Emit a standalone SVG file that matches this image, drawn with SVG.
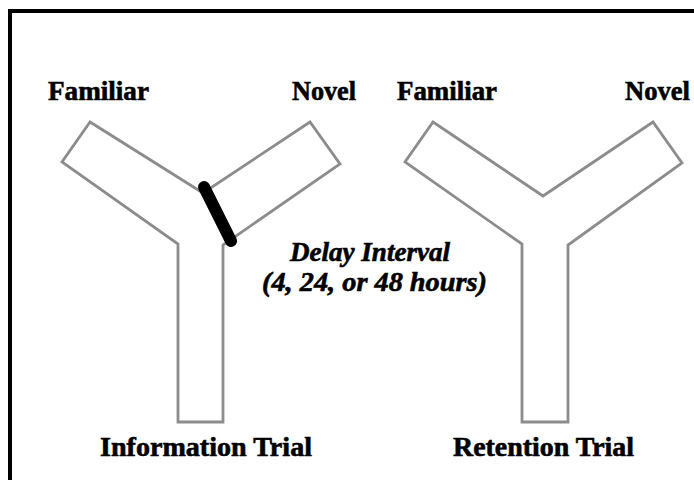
<svg xmlns="http://www.w3.org/2000/svg" width="694" height="480" viewBox="0 0 694 480">
<style>
.maze{fill:#ffffff;stroke:#8c8c8c;stroke-width:2.8;stroke-linejoin:miter}
.lbl{font-family:"Liberation Serif","Times New Roman",serif;font-weight:bold;font-size:27px;fill:#000;stroke:#000;stroke-width:0.6}
.it{font-style:italic}
</style>
<rect x="0" y="0" width="694" height="480" fill="#ffffff"/>
<path d="M10,482 L10,11 L700,11" fill="none" stroke="#000" stroke-width="4"/>
<g id="information-maze">
<polygon class="maze" points="90,122 62,162 178,244 178,422 223,422 223,245 340,164 310,122 203,193"/>
<line x1="204" y1="187" x2="231" y2="241" stroke="#000" stroke-width="12" stroke-linecap="round"/>
</g>
<g id="retention-maze">
<polygon class="maze" points="433,122 405,162 522,244 522,422 568,422 568,245 682,163 653,122 543,196"/>
</g>
<g id="labels">
<text class="lbl" x="48" y="100" textLength="101" lengthAdjust="spacingAndGlyphs">Familiar</text>
<text class="lbl" x="292" y="100" textLength="64" lengthAdjust="spacingAndGlyphs">Novel</text>
<text class="lbl" x="397" y="100" textLength="100" lengthAdjust="spacingAndGlyphs">Familiar</text>
<text class="lbl" x="625" y="100" textLength="65" lengthAdjust="spacingAndGlyphs">Novel</text>
<text class="lbl it" x="290" y="261" textLength="160" lengthAdjust="spacingAndGlyphs">Delay Interval</text>
<text class="lbl it" x="262" y="291" textLength="225" lengthAdjust="spacingAndGlyphs">(4, 24, or 48 hours)</text>
<text class="lbl" x="100" y="456" textLength="212" lengthAdjust="spacingAndGlyphs">Information Trial</text>
<text class="lbl" x="453" y="456" textLength="181" lengthAdjust="spacingAndGlyphs">Retention Trial</text>
</g>
</svg>
